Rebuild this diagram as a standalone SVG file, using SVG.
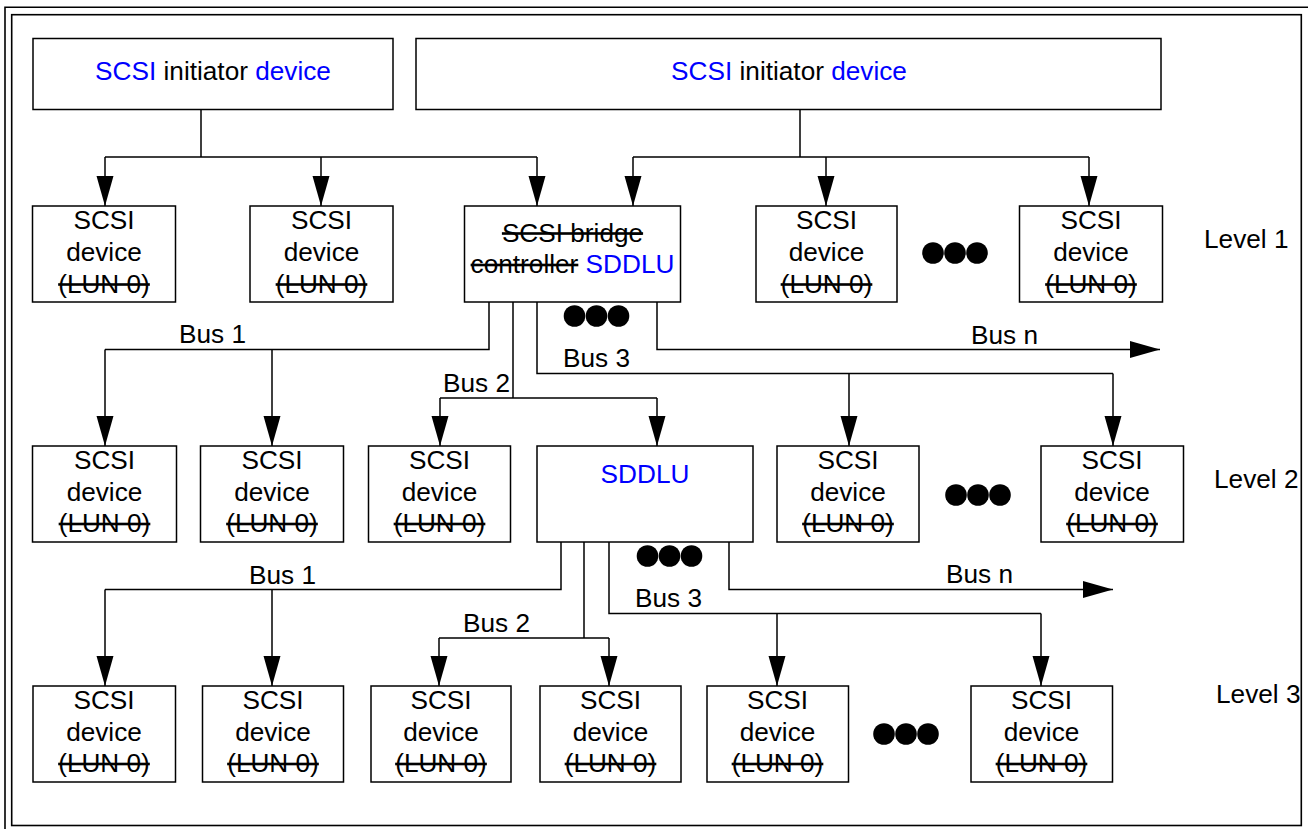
<svg xmlns="http://www.w3.org/2000/svg" width="1308" height="829" viewBox="0 0 1308 829">
<style>
  text { font-family: "Liberation Sans", Arial, Helvetica, sans-serif; font-size: 26.2px; fill: #000; }
  .c { text-anchor: middle; }
  .b { fill: #0000ff; }
  .s { text-decoration: line-through; }
  .box { fill: #fff; stroke: #000; stroke-width: 1.5; }
  .ln { fill: none; stroke: #000; stroke-width: 1.5; }
  .fr { fill: none; stroke: #000; stroke-width: 1.6; }
  .arr { fill: none; stroke: #000; stroke-width: 1.5; marker-end: url(#ah); }
  .dot { fill: #000; }
</style>
<defs>
  <marker id="ah" markerUnits="userSpaceOnUse" markerWidth="31" markerHeight="18" refX="30" refY="9" orient="auto">
    <path d="M0,0.5 L30,9 L0,17.5 z" fill="#000"/>
  </marker>
</defs>
<rect width="1308" height="829" fill="#fff"/>
<g id="frame">
  <path class="fr" d="M5,829 V7.3 H1308"/>
  <rect class="fr" x="11.7" y="14.7" width="1289.6" height="810.8"/>
</g>

<g id="connectors">
  <!-- initiator 1 -->
  <path class="ln" d="M201,109.5 V157 M105,157 H537"/>
  <path class="arr" d="M105,157 V206"/>
  <path class="arr" d="M321,157 V206"/>
  <path class="arr" d="M537,157 V206"/>
  <!-- initiator 2 -->
  <path class="ln" d="M800,109.5 V157 M633,157 H1089"/>
  <path class="arr" d="M633,157 V206"/>
  <path class="arr" d="M826,157 V206"/>
  <path class="arr" d="M1089,157 V206"/>
  <!-- level 1 to level 2 -->
  <path class="ln" d="M489,302 V349.5 H105"/>
  <path class="arr" d="M105,349.5 V446"/>
  <path class="arr" d="M272,349.5 V446"/>
  <path class="ln" d="M513,302 V398 M440,398 H657"/>
  <path class="arr" d="M440,398 V446"/>
  <path class="arr" d="M657,398 V446"/>
  <path class="ln" d="M537,302 V373.5 H1113"/>
  <path class="arr" d="M849,373.5 V446"/>
  <path class="arr" d="M1113,373.5 V446"/>
  <path class="arr" d="M657,302 V349.5 H1160"/>
  <!-- level 2 to level 3 -->
  <path class="ln" d="M561,542 V589.5 H105"/>
  <path class="arr" d="M105,589.5 V686"/>
  <path class="arr" d="M272,589.5 V686"/>
  <path class="ln" d="M584,542 V638 M439,638 H609"/>
  <path class="arr" d="M439,638 V686"/>
  <path class="arr" d="M609,638 V686"/>
  <path class="ln" d="M609,542 V613.5 H1041"/>
  <path class="arr" d="M777,613.5 V686"/>
  <path class="arr" d="M1041,613.5 V686"/>
  <path class="arr" d="M729,542 V589.5 H1113"/>
  <!-- bus labels -->
  <text x="179" y="343">Bus 1</text>
  <text x="443" y="391.5">Bus 2</text>
  <text x="563" y="366.5">Bus 3</text>
  <text x="971" y="344">Bus n</text>
  <text x="249" y="584">Bus 1</text>
  <text x="463" y="631.5">Bus 2</text>
  <text x="635" y="606.5">Bus 3</text>
  <text x="946" y="583">Bus n</text>
</g>

<g id="initiator1">
  <rect class="box" x="33" y="38.5" width="360" height="71"/>
  <text class="c" x="213" y="80"><tspan class="b">SCSI</tspan> initiator <tspan class="b">device</tspan></text>
</g>
<g id="initiator2">
  <rect class="box" x="416" y="38.5" width="745" height="71"/>
  <text class="c" x="789" y="80"><tspan class="b">SCSI</tspan> initiator <tspan class="b">device</tspan></text>
</g>

<!-- Level 1 -->
<g id="l1d1">
  <rect class="box" x="32.5" y="206" width="143" height="96"/>
  <text class="c" x="104" y="229">SCSI</text>
  <text class="c" x="104" y="260.5">device</text>
  <text class="c s" x="104" y="292.5">(LUN 0)</text>
</g>
<g id="l1d2">
  <rect class="box" x="250" y="206" width="143" height="96"/>
  <text class="c" x="321.5" y="229">SCSI</text>
  <text class="c" x="321.5" y="260.5">device</text>
  <text class="c s" x="321.5" y="292.5">(LUN 0)</text>
</g>
<g id="l1bridge">
  <rect class="box" x="464.5" y="206" width="216" height="96"/>
  <text class="c s" x="572.5" y="241.5">SCSI bridge</text>
  <text class="c" x="572.5" y="273"><tspan class="s">controller</tspan> <tspan class="b">SDDLU</tspan></text>
</g>
<g id="l1bridgedots">
  <circle class="dot" cx="574.5" cy="316" r="10.8"/>
  <circle class="dot" cx="596.5" cy="316" r="10.8"/>
  <circle class="dot" cx="618.5" cy="316" r="10.8"/>
</g>
<g id="l1d3">
  <rect class="box" x="756" y="206" width="141" height="96"/>
  <text class="c" x="826.5" y="229">SCSI</text>
  <text class="c" x="826.5" y="260.5">device</text>
  <text class="c s" x="826.5" y="292.5">(LUN 0)</text>
</g>
<g id="l1dots">
  <circle class="dot" cx="933" cy="253" r="10.8"/>
  <circle class="dot" cx="955" cy="253" r="10.8"/>
  <circle class="dot" cx="977" cy="253" r="10.8"/>
</g>
<g id="l1d4">
  <rect class="box" x="1019.5" y="206" width="143" height="96"/>
  <text class="c" x="1091" y="229">SCSI</text>
  <text class="c" x="1091" y="260.5">device</text>
  <text class="c s" x="1091" y="292.5">(LUN 0)</text>
</g>
<text id="level1" x="1204" y="248">Level 1</text>

<!-- Level 2 -->
<g id="l2d1">
  <rect class="box" x="32.5" y="446" width="144" height="96"/>
  <text class="c" x="104.5" y="469">SCSI</text>
  <text class="c" x="104.5" y="500.5">device</text>
  <text class="c s" x="104.5" y="532">(LUN 0)</text>
</g>
<g id="l2d2">
  <rect class="box" x="200.5" y="446" width="143" height="96"/>
  <text class="c" x="272" y="469">SCSI</text>
  <text class="c" x="272" y="500.5">device</text>
  <text class="c s" x="272" y="532">(LUN 0)</text>
</g>
<g id="l2d3">
  <rect class="box" x="368.5" y="446" width="142" height="96"/>
  <text class="c" x="439.5" y="469">SCSI</text>
  <text class="c" x="439.5" y="500.5">device</text>
  <text class="c s" x="439.5" y="532">(LUN 0)</text>
</g>
<g id="l2sddlu">
  <rect class="box" x="537" y="446" width="216" height="96"/>
  <text class="c b" x="645" y="482.5">SDDLU</text>
</g>
<g id="l2sddludots">
  <circle class="dot" cx="647.5" cy="556" r="10.8"/>
  <circle class="dot" cx="669.5" cy="556" r="10.8"/>
  <circle class="dot" cx="691.5" cy="556" r="10.8"/>
</g>
<g id="l2d4">
  <rect class="box" x="777" y="446" width="142" height="96"/>
  <text class="c" x="848" y="469">SCSI</text>
  <text class="c" x="848" y="500.5">device</text>
  <text class="c s" x="848" y="532">(LUN 0)</text>
</g>
<g id="l2dots">
  <circle class="dot" cx="956" cy="495" r="10.8"/>
  <circle class="dot" cx="978" cy="495" r="10.8"/>
  <circle class="dot" cx="1000" cy="495" r="10.8"/>
</g>
<g id="l2d5">
  <rect class="box" x="1041" y="446" width="142.5" height="96"/>
  <text class="c" x="1112" y="469">SCSI</text>
  <text class="c" x="1112" y="500.5">device</text>
  <text class="c s" x="1112" y="532">(LUN 0)</text>
</g>
<text id="level2" x="1214" y="488">Level 2</text>

<!-- Level 3 -->
<g id="l3d1">
  <rect class="box" x="33" y="686" width="142.5" height="96"/>
  <text class="c" x="104" y="709">SCSI</text>
  <text class="c" x="104" y="740.5">device</text>
  <text class="c s" x="104" y="772">(LUN 0)</text>
</g>
<g id="l3d2">
  <rect class="box" x="202.5" y="686" width="141" height="96"/>
  <text class="c" x="273" y="709">SCSI</text>
  <text class="c" x="273" y="740.5">device</text>
  <text class="c s" x="273" y="772">(LUN 0)</text>
</g>
<g id="l3d3">
  <rect class="box" x="371" y="686" width="140" height="96"/>
  <text class="c" x="441" y="709">SCSI</text>
  <text class="c" x="441" y="740.5">device</text>
  <text class="c s" x="441" y="772">(LUN 0)</text>
</g>
<g id="l3d4">
  <rect class="box" x="540" y="686" width="141" height="96"/>
  <text class="c" x="610.5" y="709">SCSI</text>
  <text class="c" x="610.5" y="740.5">device</text>
  <text class="c s" x="610.5" y="772">(LUN 0)</text>
</g>
<g id="l3d5">
  <rect class="box" x="707" y="686" width="141.5" height="96"/>
  <text class="c" x="777.5" y="709">SCSI</text>
  <text class="c" x="777.5" y="740.5">device</text>
  <text class="c s" x="777.5" y="772">(LUN 0)</text>
</g>
<g id="l3dots">
  <circle class="dot" cx="884" cy="734" r="10.8"/>
  <circle class="dot" cx="906" cy="734" r="10.8"/>
  <circle class="dot" cx="928" cy="734" r="10.8"/>
</g>
<g id="l3d6">
  <rect class="box" x="971" y="686" width="141.5" height="96"/>
  <text class="c" x="1041.5" y="709">SCSI</text>
  <text class="c" x="1041.5" y="740.5">device</text>
  <text class="c s" x="1041.5" y="772">(LUN 0)</text>
</g>
<text id="level3" x="1216" y="703">Level 3</text>
</svg>
